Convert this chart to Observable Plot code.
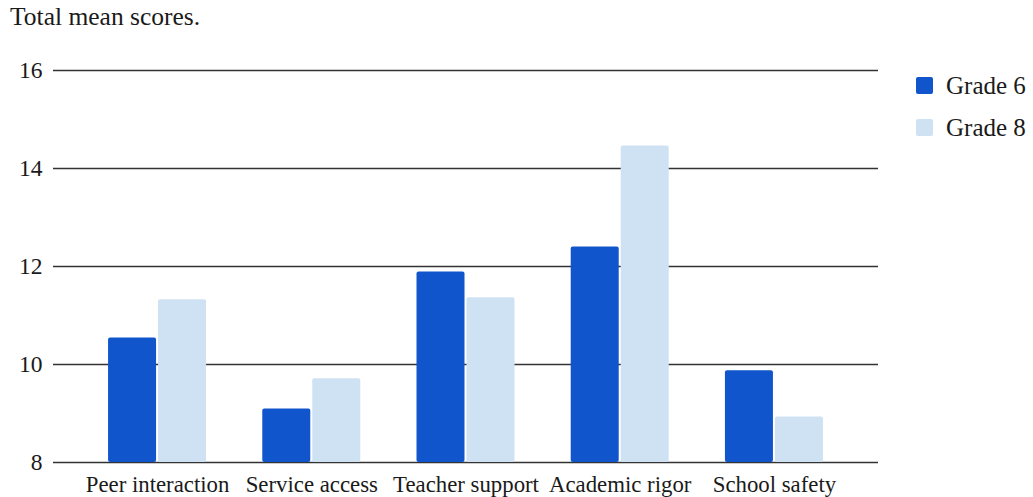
<!DOCTYPE html>
<html>
<head>
<meta charset="utf-8">
<script src="https://cdn.jsdelivr.net/npm/d3@7"></script>
<script src="https://cdn.jsdelivr.net/npm/@observablehq/plot@0.6"></script>
<style>
  body { margin: 0; background: #fff; }
  #wrap { position: relative; width: 1033px; height: 497px; font-family: "Liberation Serif", serif; color: #1a1a1a; }
  #title { position: absolute; left: 10px; top: 4px; font-size: 25.5px; line-height: 1; }
  #chart { position: absolute; left: 0; top: 40px; }
  .key { position: absolute; left: 916px; display: flex; align-items: center; font-size: 25px; line-height: 1; }
  .key span.sw { width: 17px; height: 17px; border-radius: 2px; margin-right: 13px; }
</style>
</head>
<body>
<div id="wrap">
  <div id="title">Total mean scores.</div>
  <div id="chart"></div>
  <div id="legend"></div>
</div>
<script>
// Survey domains and the mean score for each grade
const categories = ["Peer interaction", "Service access", "Teacher support", "Academic rigor", "School safety"];
const grades = ["Grade 6", "Grade 8"];
const grade6 = [10.54, 9.09, 11.89, 12.40, 9.87];
const grade8 = [11.32, 9.71, 11.36, 14.46, 8.93];
const yTicks = [8, 10, 12, 14, 16];
const colors = ["#1155cc", "#cfe2f3"];

const rows6 = categories.map((c, i) => ({category: c, grade: grades[0], value: grade6[i]}));
const rows8 = categories.map((c, i) => ({category: c, grade: grades[1], value: grade8[i]}));

const chart = Plot.plot({
  width: 1033,
  height: 457,
  marginLeft: 53,
  marginRight: 155,
  marginTop: 30,
  marginBottom: 35,
  style: {fontFamily: "Liberation Serif, serif", fontSize: "22.8px", color: "#1a1a1a", background: "transparent", overflow: "visible"},
  x: {domain: categories, paddingInner: 0.3645, paddingOuter: 0.357, round: false},
  y: {domain: [8, 16]},
  color: {domain: grades, range: colors},
  marks: [
    Plot.ruleY(yTicks, {stroke: "#333", strokeWidth: 1.3}),
    // Grade 6 takes the left part of each category band, Grade 8 the right part
    Plot.barY(rows6, {x: "category", y1: 8, y2: "value", fill: "grade", insetRight: 50, rx: 2}),
    Plot.barY(rows8, {x: "category", y1: 8, y2: "value", fill: "grade", insetLeft: 50, rx: 2}),
    Plot.axisX({tickSize: 0, tickPadding: 13, label: null, fontSize: 22.8}),
    Plot.axisY({ticks: yTicks, tickSize: 0, tickPadding: 11, label: null, fontSize: 23.5})
  ]
});
document.getElementById("chart").appendChild(chart);

// Legend built from the same grade list and colours
const legend = document.getElementById("legend");
grades.forEach((g, i) => {
  const row = document.createElement("div");
  row.className = "key";
  row.style.top = (72.5 + i * 42) + "px";
  const sw = document.createElement("span");
  sw.className = "sw";
  sw.style.background = colors[i];
  const label = document.createElement("span");
  label.textContent = g;
  row.appendChild(sw);
  row.appendChild(label);
  legend.appendChild(row);
});
</script>
</body>
</html>
